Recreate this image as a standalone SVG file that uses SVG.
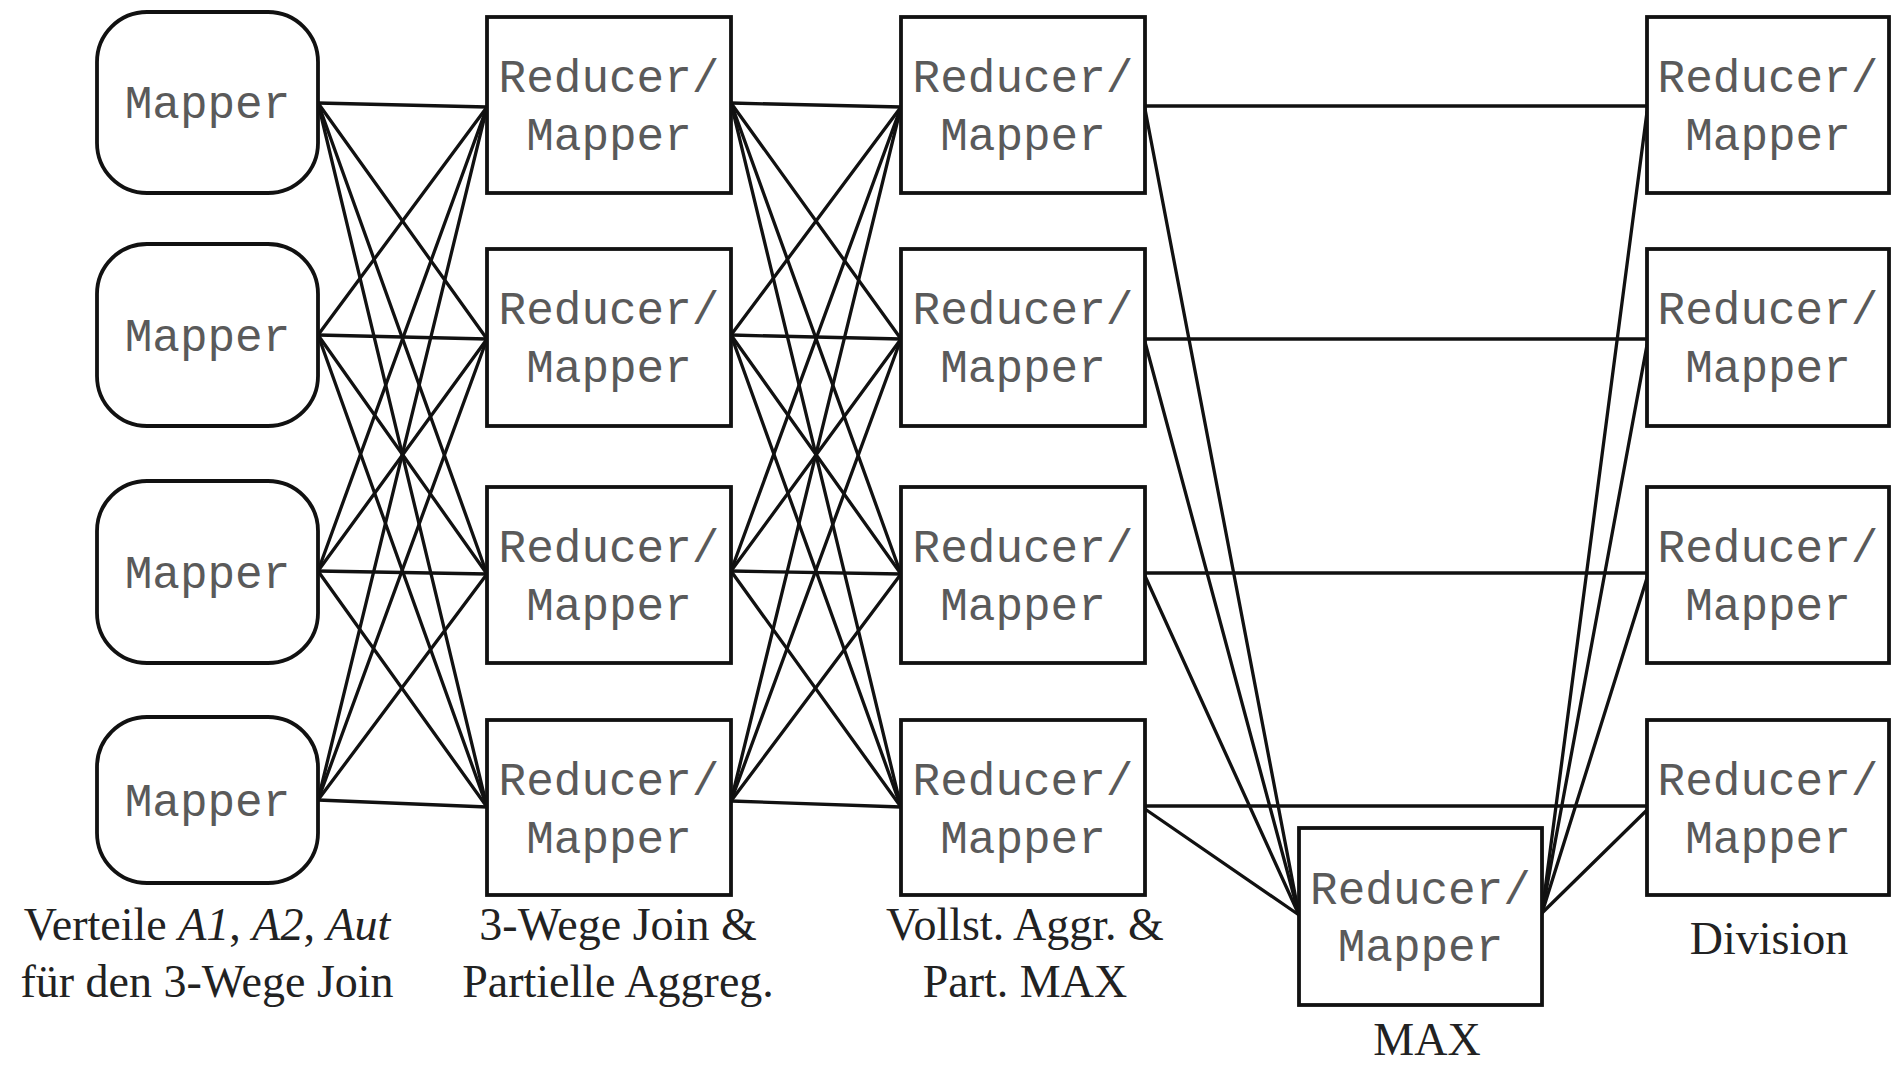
<svg xmlns="http://www.w3.org/2000/svg" width="1896" height="1066" viewBox="0 0 1896 1066">
<style>
.box{fill:#fff;stroke:#111;stroke-width:3.8}
.t{font-family:"Liberation Mono","Courier New",monospace;font-size:46px;fill:#5a5a5a;text-anchor:middle}
.lab{font-family:"Liberation Serif","Times New Roman",serif;font-size:46px;fill:#222;text-anchor:middle}
.c line{stroke:#111;stroke-width:3.3;stroke-linecap:round}
</style>
<rect width="1896" height="1066" fill="#fff"/>
<g class="c" id="connectors">
<line x1="318" y1="103" x2="487" y2="107"/><line x1="318" y1="103" x2="487" y2="339"/><line x1="318" y1="103" x2="487" y2="574"/><line x1="318" y1="103" x2="487" y2="807"/>
<line x1="318" y1="335" x2="487" y2="107"/><line x1="318" y1="335" x2="487" y2="339"/><line x1="318" y1="335" x2="487" y2="574"/><line x1="318" y1="335" x2="487" y2="807"/>
<line x1="318" y1="571" x2="487" y2="107"/><line x1="318" y1="571" x2="487" y2="339"/><line x1="318" y1="571" x2="487" y2="574"/><line x1="318" y1="571" x2="487" y2="807"/>
<line x1="318" y1="800" x2="487" y2="107"/><line x1="318" y1="800" x2="487" y2="339"/><line x1="318" y1="800" x2="487" y2="574"/><line x1="318" y1="800" x2="487" y2="807"/>
<line x1="731" y1="103" x2="901" y2="107"/><line x1="731" y1="103" x2="901" y2="339"/><line x1="731" y1="103" x2="901" y2="574"/><line x1="731" y1="103" x2="901" y2="807"/>
<line x1="731" y1="335" x2="901" y2="107"/><line x1="731" y1="335" x2="901" y2="339"/><line x1="731" y1="335" x2="901" y2="574"/><line x1="731" y1="335" x2="901" y2="807"/>
<line x1="731" y1="571" x2="901" y2="107"/><line x1="731" y1="571" x2="901" y2="339"/><line x1="731" y1="571" x2="901" y2="574"/><line x1="731" y1="571" x2="901" y2="807"/>
<line x1="731" y1="801" x2="901" y2="107"/><line x1="731" y1="801" x2="901" y2="339"/><line x1="731" y1="801" x2="901" y2="574"/><line x1="731" y1="801" x2="901" y2="807"/>
<line x1="1145" y1="106" x2="1647" y2="106"/><line x1="1145" y1="339" x2="1647" y2="339"/><line x1="1145" y1="573" x2="1647" y2="573"/><line x1="1145" y1="806" x2="1647" y2="806"/>
<line x1="1145" y1="109" x2="1299" y2="915"/><line x1="1145" y1="342" x2="1299" y2="915"/><line x1="1145" y1="576" x2="1299" y2="915"/><line x1="1145" y1="809" x2="1299" y2="915"/>
<line x1="1542" y1="913" x2="1647" y2="112"/><line x1="1542" y1="913" x2="1647" y2="345"/><line x1="1542" y1="913" x2="1647" y2="578"/><line x1="1542" y1="913" x2="1647" y2="810"/>
</g>
<g id="mapper1"><rect class="box" x="97" y="12" width="221" height="181" rx="50"/><text class="t" x="207.5" y="118">Mapper</text></g>
<g id="mapper2"><rect class="box" x="97" y="244" width="221" height="182" rx="50"/><text class="t" x="207.5" y="351">Mapper</text></g>
<g id="mapper3"><rect class="box" x="97" y="481" width="221" height="182" rx="50"/><text class="t" x="207.5" y="588">Mapper</text></g>
<g id="mapper4"><rect class="box" x="97" y="717" width="221" height="166" rx="50"/><text class="t" x="207.5" y="816">Mapper</text></g>
<g id="r2_1"><rect class="box" x="487" y="17" width="244" height="176"/><text class="t" x="609" y="92">Reducer/</text><text class="t" x="609" y="150">Mapper</text></g>
<g id="r2_2"><rect class="box" x="487" y="249" width="244" height="177"/><text class="t" x="609" y="324">Reducer/</text><text class="t" x="609" y="382">Mapper</text></g>
<g id="r2_3"><rect class="box" x="487" y="487" width="244" height="176"/><text class="t" x="609" y="562">Reducer/</text><text class="t" x="609" y="620">Mapper</text></g>
<g id="r2_4"><rect class="box" x="487" y="720" width="244" height="175"/><text class="t" x="609" y="795">Reducer/</text><text class="t" x="609" y="853">Mapper</text></g>
<g id="r3_1"><rect class="box" x="901" y="17" width="244" height="176"/><text class="t" x="1023" y="92">Reducer/</text><text class="t" x="1023" y="150">Mapper</text></g>
<g id="r3_2"><rect class="box" x="901" y="249" width="244" height="177"/><text class="t" x="1023" y="324">Reducer/</text><text class="t" x="1023" y="382">Mapper</text></g>
<g id="r3_3"><rect class="box" x="901" y="487" width="244" height="176"/><text class="t" x="1023" y="562">Reducer/</text><text class="t" x="1023" y="620">Mapper</text></g>
<g id="r3_4"><rect class="box" x="901" y="720" width="244" height="175"/><text class="t" x="1023" y="795">Reducer/</text><text class="t" x="1023" y="853">Mapper</text></g>
<g id="rmax"><rect class="box" x="1299" y="828" width="243" height="177"/><text class="t" x="1420.5" y="904">Reducer/</text><text class="t" x="1420.5" y="961">Mapper</text></g>
<g id="r5_1"><rect class="box" x="1647" y="17" width="242" height="176"/><text class="t" x="1768" y="92">Reducer/</text><text class="t" x="1768" y="150">Mapper</text></g>
<g id="r5_2"><rect class="box" x="1647" y="249" width="242" height="177"/><text class="t" x="1768" y="324">Reducer/</text><text class="t" x="1768" y="382">Mapper</text></g>
<g id="r5_3"><rect class="box" x="1647" y="487" width="242" height="176"/><text class="t" x="1768" y="562">Reducer/</text><text class="t" x="1768" y="620">Mapper</text></g>
<g id="r5_4"><rect class="box" x="1647" y="720" width="242" height="175"/><text class="t" x="1768" y="795">Reducer/</text><text class="t" x="1768" y="853">Mapper</text></g>
<g id="labels">
<text class="lab" x="207" y="940">Verteile <tspan font-style="italic">A1</tspan>, <tspan font-style="italic">A2</tspan>, <tspan font-style="italic">Aut</tspan></text>
<text class="lab" x="207" y="997">für den 3-Wege Join</text>
<text class="lab" x="618" y="940">3-Wege Join &amp;</text>
<text class="lab" x="618" y="997">Partielle Aggreg.</text>
<text class="lab" x="1025" y="940">Vollst. Aggr. &amp;</text>
<text class="lab" x="1025" y="997">Part. MAX</text>
<text class="lab" x="1427" y="1055">MAX</text>
<text class="lab" x="1769" y="954">Division</text>
</g>
</svg>
